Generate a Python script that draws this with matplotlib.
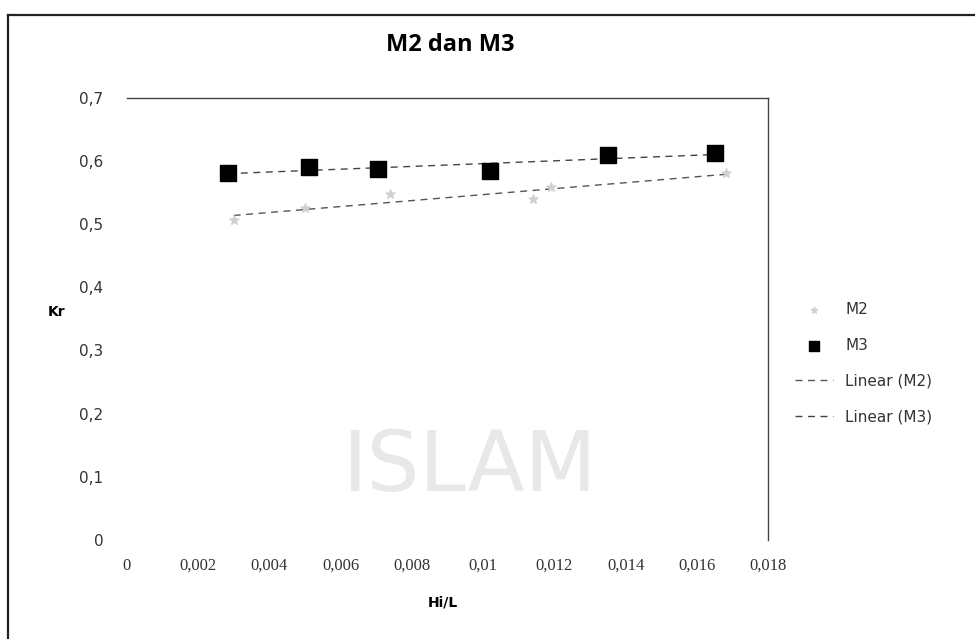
import numpy as np
import matplotlib
matplotlib.use("Agg")
import matplotlib.pyplot as plt
from matplotlib.lines import Line2D
from matplotlib.ticker import FuncFormatter

# Data
m2_x = [0.0030, 0.0050, 0.0074, 0.0114, 0.0119, 0.0168]
m2_y = [0.507, 0.526, 0.547, 0.540, 0.558, 0.581]
m3_x = [0.00285, 0.0051, 0.00705, 0.0102, 0.0135, 0.0165]
m3_y = [0.581, 0.590, 0.588, 0.584, 0.609, 0.612]

x_ticks = [0, 0.002, 0.004, 0.006, 0.008, 0.01, 0.012, 0.014, 0.016, 0.018]
y_ticks = [0, 0.1, 0.2, 0.3, 0.4, 0.5, 0.6, 0.7]

fig = plt.figure(figsize=(9.75, 6.39), dpi=100)
ax = fig.add_axes([0.130, 0.155, 0.658, 0.692])

# outer chart frame (top and left edges visible)
fig.add_artist(Line2D([8/975, 1.0], [1-15/639, 1-15/639], transform=fig.transFigure, color="#222222", lw=1.6))
fig.add_artist(Line2D([8/975, 8/975], [0, 1-15/639], transform=fig.transFigure, color="#222222", lw=1.6))

# faint watermark
fig.text(0.482, 0.268, "ISLAM", fontsize=60, color="#e8e8e8", ha="center", va="center",
         family="DejaVu Sans", zorder=0)

# series
ax.scatter(m2_x, m2_y, marker="*", s=45, color="#d0d0d0", zorder=3, label="M2")
ax.scatter(m3_x, m3_y, marker="s", s=120, color="black", zorder=3, label="M3")

# linear trendlines
for xs, ys, col, lab in [(m2_x, m2_y, "#555555", "Linear (M2)"), (m3_x, m3_y, "#444444", "Linear (M3)")]:
    k, b = np.polyfit(xs, ys, 1)
    xx = np.array([min(xs), max(xs)])
    ax.plot(xx, k * xx + b, color=col, lw=1.0, ls=(0, (5, 4)), zorder=2, label=lab)

ax.set_xlim(0, 0.018)
ax.set_ylim(0, 0.7)
ax.set_xticks(x_ticks)
ax.set_yticks(y_ticks)

def comma_fmt(v, pos):
    s = f"{v:.3f}".rstrip("0").rstrip(".")
    return s.replace(".", ",")

ax.xaxis.set_major_formatter(FuncFormatter(comma_fmt))
ax.yaxis.set_major_formatter(FuncFormatter(comma_fmt))
ax.tick_params(axis="both", length=0, labelsize=11, colors="#333333")
ax.tick_params(axis="x", pad=13)
ax.tick_params(axis="y", pad=17)
for lbl in ax.get_xticklabels():
    lbl.set_family("Liberation Serif")
    lbl.set_fontsize(12)

for side in ["left", "bottom"]:
    ax.spines[side].set_visible(False)
for side in ["top", "right"]:
    ax.spines[side].set_color("#444444")
    ax.spines[side].set_linewidth(1.0)

fig.text(0.4615, 1 - 45/639, "M2 dan M3", fontsize=17, fontweight="bold", ha="center", va="center",
         family="Open Sans")
fig.text(57/975, 1 - 312/639, "Kr", fontsize=10, fontweight="bold", ha="center", va="center")
fig.text(443/975, 1 - 603/639, "Hi/L", fontsize=10, fontweight="bold", ha="center", va="center")

leg = ax.legend(loc="center left", bbox_to_anchor=(1.02, 0.40), frameon=False, fontsize=11,
                handlelength=2.5, labelspacing=1.35, markerscale=0.7)
for t in leg.get_texts():
    t.set_color("#333333")

fig.savefig("out.png", dpi=100, facecolor="white")
